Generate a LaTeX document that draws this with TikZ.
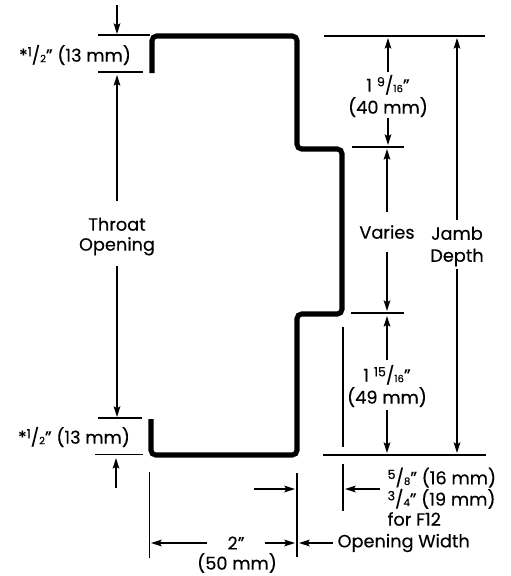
\documentclass[tikz,border=0pt]{standalone}
\usepackage{fontspec}
\setmainfont{Poppins}[FakeBold=0.3]
\usepackage{tikz}
\usetikzlibrary{positioning}
\usetikzlibrary{arrows.meta}

\newcommand{\upfrac}[2]{\raisebox{.55ex}{\fontsize{9.5}{8}\selectfont #1}/\raisebox{-.05ex}{\fontsize{7.5}{7}\selectfont #2}}

\begin{document}
\begin{tikzpicture}[x=0.75pt,y=-0.75pt,->,>={Stealth[length=8pt,width=5pt,inset=1.5pt]},line width=0.9pt,
	dim label/.style={inner sep=0pt,align=center,font=\fontsize{13.3}{16.5}\selectfont},
	side label/.style={inner sep=0pt,align=left,font=\fontsize{13.3}{15}\selectfont},
	ext line/.style={-},
	profile/.style={-,line width=3.8pt,rounded corners=3.5pt}]

	\useasboundingbox (0,0) rectangle (511,576);

	% the jamb section
	\draw[profile] (152,73) -- (152,36) -- (297,36) -- (297,149) -- (342,149) -- (342,314) -- (297,314) -- (297,455) -- (151,455) -- (151,419);

	% labels
	\node[dim label] (topreturn) at (75,55) {*\upfrac{1}{2}" (13 mm)};
	\node[dim label] (bottomreturn) at (74,437) {*\upfrac{1}{2}" (13 mm)};
	\node[dim label,minimum height=42.75pt,font=\fontsize{13.3}{15}\selectfont] (throat) at (117,236.5) {Throat\\Opening};
	\node[dim label,minimum height=30pt] (upperpart) at (388,96) {1\;\upfrac{9}{16}"\\(40 mm)};
	\node[dim label,minimum height=28.5pt] (varies) at (387,232) {Varies};
	\node[dim label,minimum height=32.25pt] (jamb) at (457,246.5) {Jamb\\Depth};
	\node[dim label,minimum height=34.5pt] (lowerpart) at (387,386) {1\;\upfrac{15}{16}"\\(49 mm)};
	\node[dim label,minimum width=42pt] (width) at (236,543) {2"};
	\node[dim label] (widthmm) at (237,563) {(50 mm)};
	\node[dim label,anchor=west,inner xsep=3pt] (opening) at (333,543) {Opening Width};
	\node[side label,anchor=north west] (setback) at (387,467) {\upfrac{5}{8}" (16 mm)\\\upfrac{3}{4}" (19 mm)\\for F12};

	% extension lines
	\coordinate (topa) at (98,35);
	\coordinate (topb) at (150,35);
	\coordinate (retopa) at (98,72);
	\coordinate (retopb) at (143,72);
	\coordinate (rebota) at (98,418);
	\coordinate (rebotb) at (142,418);
	\coordinate (bota) at (95,454.5);
	\coordinate (botb) at (143,454.5);
	\coordinate (depthtopa) at (324,36);
	\coordinate (depthtopb) at (485,36);
	\coordinate (steptopa) at (352,147);
	\coordinate (steptopb) at (404,147);
	\coordinate (stepbota) at (351,313);
	\coordinate (stepbotb) at (404,313);
	\coordinate (depthbota) at (323,455);
	\coordinate (depthbotb) at (486,455);
	\coordinate (leftupa) at (149.5,472);
	\coordinate (leftupb) at (149.5,558);
	\coordinate (midupa) at (297,473);
	\coordinate (midupb) at (297,557);
	\coordinate (facea) at (343,327);
	\coordinate (faceb) at (343,447);
	\coordinate (backa) at (343,464);
	\coordinate (backb) at (343,511);

	% arrow ends
	\coordinate (intop) at (117,5);
	\coordinate (intopend) at (117,34);
	\coordinate (inbot) at (116,488);
	\coordinate (inbotend) at (116,458);
	\coordinate (throatup) at (117,75);
	\coordinate (throatdown) at (117,417);
	\coordinate (upperup) at (388,38);
	\coordinate (upperdown) at (388,145);
	\coordinate (variesup) at (387,149);
	\coordinate (variesdown) at (387,311);
	\coordinate (lowerup) at (387,316);
	\coordinate (lowerdown) at (387,453);
	\coordinate (jambup) at (457,38);
	\coordinate (jambdown) at (457,453);
	\coordinate (widthleft) at (151,543);
	\coordinate (widthright) at (295,543);
	\coordinate (openingend) at (299,543);
	\coordinate (inwidth) at (254,489);
	\coordinate (inwidthend) at (295,489);
	\coordinate (setbackstart) at (380,489);
	\coordinate (setbackend) at (345,489);

	\path
	(topa)		edge[ext line] (topb)
	(retopa)	edge[ext line] (retopb)
	(rebota)	edge[ext line] (rebotb)
	(bota)		edge[ext line] (botb)
	(depthtopa)	edge[ext line] (depthtopb)
	(steptopa)	edge[ext line] (steptopb)
	(stepbota)	edge[ext line] (stepbotb)
	(depthbota)	edge[ext line] (depthbotb)
	(leftupa)	edge[ext line] (leftupb)
	(midupa)	edge[ext line] (midupb)
	(facea)		edge[ext line] (faceb)
	(backa)		edge[ext line] (backb)
	(intop)		edge (intopend)
	(inbot)		edge (inbotend)
	(throat.north)	edge[shorten <=4.5pt] (throatup)
	(throat.south)	edge (throatdown)
	(upperpart.north)	edge[shorten <=1.5pt] (upperup)
	(upperpart.south)	edge (upperdown)
	(varies.north)	edge (variesup)
	(varies.south)	edge (variesdown)
	(lowerpart.north)	edge[shorten <=1.5pt] (lowerup)
	(lowerpart.south)	edge (lowerdown)
	(jamb.north)	edge[shorten <=3pt] (jambup)
	(jamb.south)	edge (jambdown)
	(width.west)	edge (widthleft)
	(width.east)	edge (widthright)
	(opening.west)	edge (openingend)
	(inwidth)	edge (inwidthend)
	(setbackstart)	edge (setbackend)
	;
\end{tikzpicture}
\end{document}
